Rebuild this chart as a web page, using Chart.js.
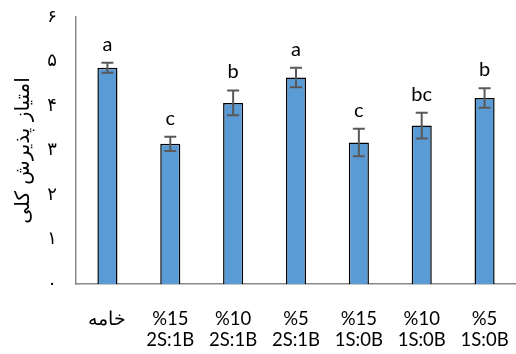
<!DOCTYPE html>
<html>
<head>
<meta charset="utf-8">
<script src="https://cdn.jsdelivr.net/npm/chart.js@4.4.0/dist/chart.umd.min.js"></script>
<style>
  html, body { margin: 0; padding: 0; background: #ffffff; }
  #wrap { width: 516px; height: 354px; position: relative; }
</style>
</head>
<body>
<div id="wrap"><canvas id="c" width="516" height="354"></canvas></div>
<script>
const categories = [
  'خامه',
  ['%15', '2S:1B'],
  ['%10', '2S:1B'],
  ['%5', '2S:1B'],
  ['%15', '1S:0B'],
  ['%10', '1S:0B'],
  ['%5', '1S:0B']
];
const values = [4.86, 3.15, 4.07, 4.64, 3.18, 3.56, 4.18];
const errors = [0.11, 0.16, 0.28, 0.22, 0.31, 0.29, 0.22];
const letters = ['a', 'c', 'b', 'a', 'c', 'bc', 'b'];
const yTickLabels = ['۰', '۱', '۲', '۳', '۴', '۵', '۶'];
const yTitle = 'امتیاز پذیرش کلی';

const latin = 'Lato, "Open Sans", sans-serif';
const arabic = '"DejaVu Sans", "Noto Sans", sans-serif';

const errorPlugin = {
  id: 'errs',
  afterDatasetsDraw(chart) {
    const ctx = chart.ctx;
    const meta = chart.getDatasetMeta(0);
    const y = chart.scales.y;
    ctx.save();
    meta.data.forEach((bar, i) => {
      const x = bar.x;
      const top = y.getPixelForValue(values[i] + errors[i]);
      const bot = y.getPixelForValue(values[i] - errors[i]);
      ctx.strokeStyle = '#595959';
      ctx.lineWidth = 2;
      ctx.beginPath();
      ctx.moveTo(x, top); ctx.lineTo(x, bot);
      ctx.moveTo(x - 6, top); ctx.lineTo(x + 6, top);
      ctx.moveTo(x - 6, bot); ctx.lineTo(x + 6, bot);
      ctx.stroke();
      ctx.fillStyle = '#000000';
      ctx.font = '20px ' + latin;
      ctx.textAlign = 'center';
      ctx.textBaseline = 'alphabetic';
      ctx.fillText(letters[i], x, top - 12);
    });
    ctx.restore();
  }
};

new Chart(document.getElementById('c'), {
  type: 'bar',
  data: {
    labels: categories,
    datasets: [{
      data: values,
      backgroundColor: '#5B9BD5',
      borderColor: '#000000',
      borderWidth: 1.5,
      barPercentage: 0.32,
      categoryPercentage: 1.0
    }]
  },
  options: {
    responsive: false,
    animation: false,
    devicePixelRatio: 1,
    layout: { padding: { top: 17, right: 0, left: 0, bottom: 0 } },
    plugins: { legend: { display: false }, tooltip: { enabled: false } },
    scales: {
      x: {
        grid: { display: false, drawTicks: false },
        border: { display: true, color: '#898989', width: 1.5 },
        ticks: {
          color: '#000000',
          font: { family: latin, size: 18.5, lineHeight: 1.15 },
          padding: 24,
          maxRotation: 0,
          autoSkip: false
        },
        afterFit(s) { s.height = 70; s.paddingLeft = 0; s.paddingRight = 0; s.paddingTop = 0; s.paddingBottom = 0; }
      },
      y: {
        min: 0, max: 6,
        grid: { display: false, drawTicks: false },
        border: { display: true, color: '#898989', width: 1.5 },
        ticks: {
          stepSize: 1,
          color: '#000000',
          font: { family: arabic, size: 18 },
          padding: 19,
          callback: (v) => yTickLabels[v]
        },
        title: {
          display: true,
          text: yTitle,
          color: '#000000',
          font: { family: arabic, size: 20 },
          padding: { top: 12, bottom: 0 }
        },
        afterFit(s) { s.width = 76; s.paddingTop = 0; s.paddingBottom = 0; }
      }
    }
  },
  plugins: [errorPlugin]
});
</script>
</body>
</html>
